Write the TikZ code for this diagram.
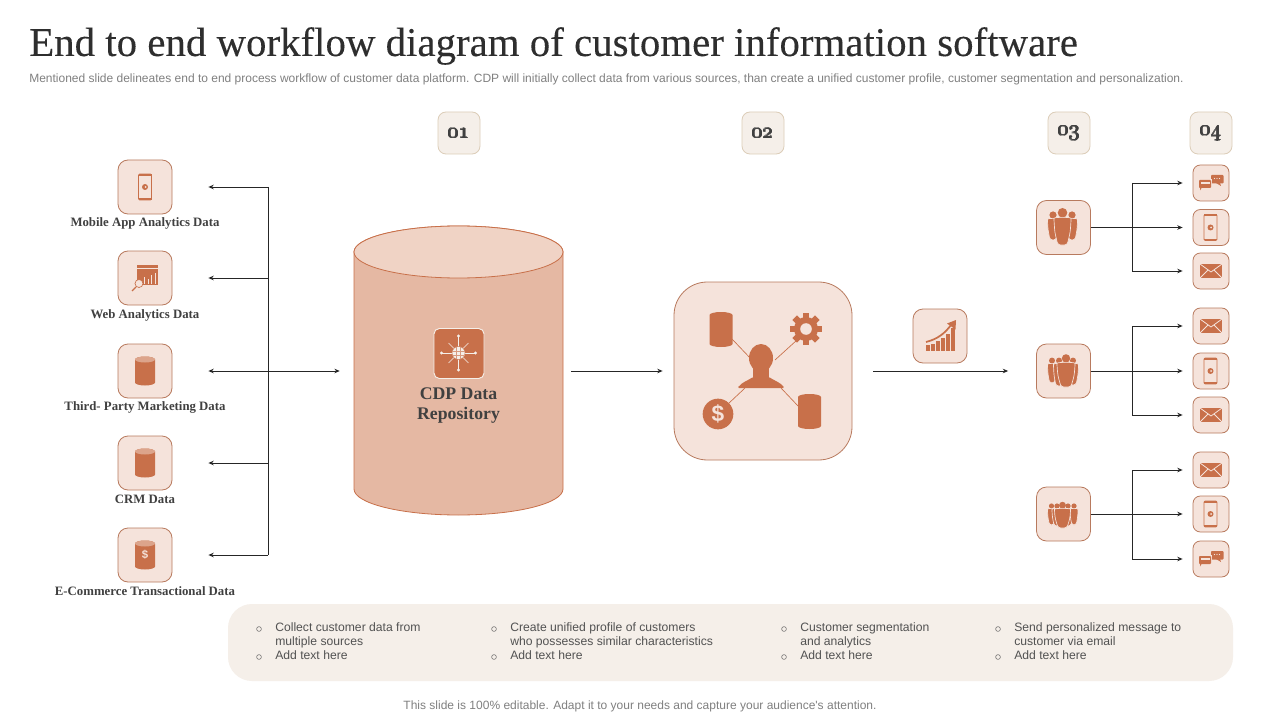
\documentclass[tikz,border=0pt]{standalone}
\usepackage{fontspec}
\setmainfont{Liberation Serif}
\newfontfamily\sansf{Liberation Sans}
\newfontfamily\titlef[FakeBold=0.12]{Liberation Serif}
\usetikzlibrary{arrows.meta}
\definecolor{ico}{HTML}{C8704A}
\definecolor{boxfill}{HTML}{F5E3DB}
\definecolor{boxline}{HTML}{B87A5E}
\definecolor{cylbody}{HTML}{E5B8A3}
\definecolor{cyltop}{HTML}{F0D3C5}
\definecolor{numfill}{HTML}{F5EFE9}
\definecolor{numline}{HTML}{DCCDB8}
\definecolor{dark}{HTML}{404040}
\newcommand\onumraw[1]{\char"30\char"3#1}
\newcommand\onum[1]{{\usefont{TS1}{lmr}{bx}{n}\fontsize{19}{20}\selectfont\rlap{\onumraw{#1}}\rlap{\raisebox{.3pt}{\kern.3pt\onumraw{#1}}}\rlap{\kern.6pt\onumraw{#1}}\rlap{\raisebox{-.2pt}{\kern.3pt\onumraw{#1}}}\kern.9pt\onumraw{#1}}}
\tikzset{
  iconbox/.style={draw=boxline,fill=boxfill,line width=.6pt,rounded corners=7.5pt,minimum size=40.5pt,inner sep=0pt},
  minibox/.style={draw=boxline,fill=boxfill,line width=.6pt,rounded corners=5.5pt,minimum size=27pt,inner sep=0pt},
  numbox/.style={draw=numline,fill=numfill,line width=.6pt,rounded corners=6pt,minimum size=31.5pt,inner sep=0pt,text=dark,font=\bfseries\fontsize{17}{18}\selectfont},
  datalabel/.style={text=dark,font=\bfseries\fontsize{9.6}{11}\selectfont,inner sep=0pt},
  conn/.style={draw=black!85,line width=.7pt},
  tip/.style={-{Stealth[length=4pt,width=3.4pt]}},
  tips/.style={{Stealth[length=4pt,width=3.4pt]}-{Stealth[length=4pt,width=3.4pt]}},
  bodytext/.style={font=\sansf\fontsize{9.12}{10.5}\selectfont,text=black!68,align=left,anchor=north west,inner sep=0pt},
  bull/.style={circle,draw=black!60,line width=.4pt,minimum size=3.6pt,inner sep=0pt},
  thin link/.style={draw=ico,line width=.5pt}
}
% icons, all in px around a centre
\newcommand\IcPhone[2]{\begin{scope}[shift={(#1,#2)}]
  \draw[ico,line width=.7pt,fill=boxfill,rounded corners=1] (-6.5,-13) rectangle (6.5,13);
  \fill[ico] (-6.5,-13) rectangle (6.5,-11.2);\fill[ico] (-6.5,11.2) rectangle (6.5,13);
  \fill[ico] (0,0) circle[radius=3];\fill[boxfill] (.5,0) circle[radius=1];
\end{scope}}
\newcommand\IcCyl[4]{\begin{scope}[shift={(#1,#2)}]
  \fill[ico] (-#3,{-#4+3}) -- (-#3,{#4-3}) arc[start angle=180,end angle=0,x radius=#3,y radius=3] -- (#3,{-#4+3}) arc[start angle=0,end angle=-180,x radius=#3,y radius=3] -- cycle;
\end{scope}}
\newcommand\IcCylTop[4]{\IcCyl{#1}{#2}{#3}{#4}\fill[ico!55!boxfill] (#1,{#2-#4+3}) ellipse[x radius=#3,y radius=3];}
\newcommand\IcMail[2]{\begin{scope}[shift={(#1,#2)}]
  \fill[ico] (-11,-7) rectangle (11,7);
  \draw[boxfill,line width=.6pt] (-11,-7) -- (0,1) -- (11,-7) (-11,7) -- (-3,-1) (11,7) -- (3,-1);
\end{scope}}
\newcommand\IcChat[2]{\begin{scope}[shift={(#1,#2)}]
  \fill[ico,rounded corners=.6] (0,-8) rectangle (12.5,.5);
  \fill[ico] (5,0) -- (9,0) -- (10,3) -- cycle;
  \foreach \d in {3.5,6,8.5}{\fill[boxfill] (\d,-4.5) circle[radius=.6];}
  \fill[boxfill] (-13,-3.6) rectangle (.6,5.6);
  \fill[ico,rounded corners=.6] (-12,-3) rectangle (0,5);
  \fill[ico] (-11,5) -- (-9.5,5) -- (-11,7.5) -- cycle;
  \fill[boxfill] (-10.5,-.8) rectangle (-1.5,1);
\end{scope}}
\newcommand\Fig[5]{% cx top halfwidth height headradius
  \fill[ico] (#1,{#2-#5+.6}) circle[radius=#5];
  \filldraw[fill=ico,draw=boxfill,line width=.5pt,rounded corners=2]
    ({#1-#3},{#2+4}) .. controls ({#1-#3},{#2}) and ({#1+#3},{#2}) .. ({#1+#3},{#2+4})
    -- ({#1+.9*#3},{#2+.55*#4}) -- ({#1+.55*#3},{#2+#4}) -- ({#1-.55*#3},{#2+#4}) -- ({#1-.9*#3},{#2+.55*#4}) -- cycle;}
\begin{document}
\begin{tikzpicture}[x=.75pt,y=-.75pt]
\path[use as bounding box,fill=white] (0,0) rectangle (1280,720);
% title
\node[anchor=west,inner sep=0pt,text=black!82,font=\titlef\fontsize{30.65}{32}\selectfont] (title) at (29,46) {End to end workflow diagram of customer information software};
\node[anchor=west,inner sep=0pt,text=black!50,font=\sansf\fontsize{9}{10}\selectfont] (sub) at (29,79) {Mentioned slide delineates end to end process workflow of customer data platform. CDP will initially collect data from various sources, than create a unified customer profile, customer segmentation and personalization.};
% number badges
\node[numbox] (n1) at (459,133) {\onum{1}};
\node[numbox] (n2) at (763,133) {\onum{2}};
\node[numbox] (n3) at (1069,133) {\onum{3}};
\node[numbox] (n4) at (1211,133) {\onum{4}};
% left sources
\node[iconbox] (s1) at (145,187) {};
\node[iconbox] (s2) at (145,278) {};
\node[iconbox] (s3) at (145,371) {};
\node[iconbox] (s4) at (145,463) {};
\node[iconbox] (s5) at (145,555) {};
\node[datalabel] (l1) at (145,223.5) {Mobile App Analytics Data};
\node[datalabel] (l2) at (145,315.5) {Web Analytics Data};
\node[datalabel] (l3) at (145,407.5) {Third- Party Marketing Data};
\node[datalabel] (l4) at (145,499.5) {CRM Data};
\node[datalabel] (l5) at (145,591.5) {E-Commerce Transactional Data};
\IcPhone{145}{187}
% web analytics icon
\fill[ico] (137,265) rectangle (158,285);
\draw[boxfill,line width=.35pt] (137,268) -- (158,268);
\foreach \a/\b in {141/281,144.5/277,148/279,151.5/275,155/273}{\draw[boxfill,line width=.4pt] (\a,284) -- (\a,\b);}
\draw[ico,line width=.9pt] (136,287) -- (132,291);
\draw[ico,line width=.5pt,fill=boxfill] (139,283.5) circle[radius=4];
\IcCylTop{145}{371}{10}{14.5}
\IcCylTop{145}{463}{10}{14.5}
\IcCylTop{145}{555}{10}{14.5}
\node[inner sep=0pt,text=boxfill,font=\sansf\bfseries\fontsize{8.5}{9}\selectfont] (dollar1) at (145,555) {\$};
% left bus
\coordinate (b1) at (268,187);
\coordinate (b2) at (268,278);
\coordinate (b5) at (268,555);
\coordinate (b4) at (268,463);
\draw[conn] (b1) -- (b5);
\draw[conn,tip,shorten >=27pt] (b1) -- (s1.east);
\draw[conn,tip,shorten >=27pt] (b2) -- (s2.east);
\draw[conn,tip,shorten >=27pt] (b4) -- (s4.east);
\draw[conn,tip,shorten >=27pt] (b5) -- (s5.east);
% repository
\node[minimum width=156.75pt,minimum height=216.75pt,inner sep=0pt] (repo) at (458.5,371) {};
\filldraw[fill=cylbody,draw=ico,line width=.6pt] (354,252) -- (354,489) arc[start angle=180,end angle=0,x radius=104.5,y radius=26] -- (563,252) arc[start angle=0,end angle=-180,x radius=104.5,y radius=26] -- cycle;
\filldraw[fill=cyltop,draw=ico,line width=.6pt] (458.5,252) ellipse[x radius=104.5,y radius=26];
\draw[conn,tips,shorten <=27pt,shorten >=10.5pt] (s3.east) -- (repo.west);
\node[draw=numfill,fill=ico,line width=.7pt,rounded corners=4pt,minimum size=37.5pt,inner sep=0pt] (net) at (459,353.5) {};
\begin{scope}[shift={(458.5,353)}]
  \foreach \an in {0,90,180,270}{\draw[numfill,line width=.5pt] (0,0) -- (\an:17);\fill[numfill] (\an:17) circle[radius=1.7];}
  \foreach \an in {45,135,225,315}{\draw[numfill,line width=.5pt] (0,0) -- (\an:14);}
  \filldraw[fill=numfill,draw=ico,line width=.3pt] (0,0) circle[radius=6.5];
  \draw[ico!70,line width=.25pt] (-6,-2) -- (6,-2) (-6,2) -- (6,2) (-2,-6) -- (-2,6) (2,-6) -- (2,6);
\end{scope}
\node[inner sep=0pt,align=center,text=dark,font=\bfseries\fontsize{13.3}{15}\selectfont] (repot) at (458.5,405.5) {CDP Data\\Repository};
% hub
\node[draw=boxline,fill=boxfill,line width=.6pt,rounded corners=25pt,minimum size=133.5pt,inner sep=0pt] (hub) at (763,371) {};
\draw[conn,tip,shorten <=6pt,shorten >=8.25pt] (repo.east) -- (hub.west);
\draw[thin link] (732,339) -- (752,360);
\draw[thin link] (775,360) -- (797,340);
\draw[thin link] (728,404) -- (745,388);
\draw[thin link] (781,388) -- (799,407);
\IcCyl{721}{329.5}{11.5}{17.5}
\IcCyl{809.5}{411.5}{11.5}{17.5}
% gear
\begin{scope}[shift={(806,329)}]
  \foreach \an in {0,45,...,315}{\fill[ico,rotate=\an] (-3.2,-16) rectangle (3.2,-9);}
  \fill[ico] (0,0) circle[radius=12];
  \fill[boxfill] (0,0) circle[radius=5.8];
\end{scope}
% person
\fill[ico] (761,358) ellipse[x radius=12,y radius=14];
\fill[ico,rounded corners=1] (737.5,388) .. controls (742,382) and (748,380.5) .. (753,377) -- (769,377) .. controls (774,380.5) and (780,382) .. (784.5,388) -- cycle;
\fill[ico] (753,366) rectangle (769,381);
% dollar coin
\node[circle,fill=ico,minimum size=23pt,inner sep=0pt,text=boxfill,font=\sansf\bfseries\fontsize{17}{18}\selectfont] (coin) at (718,414) {\$};
% chart
\node[iconbox] (chart) at (940,336) {};
\foreach \a/\b in {926/345,931/343.5,936/341,941/338,946/334,951/328}{\fill[ico] (\a,351) rectangle ({\a+3.9},\b);}
\draw[ico,line width=1.3pt] (926,342) .. controls (938,339) and (945,333) .. (951,325);
\fill[ico] (956,320) -- (955.5,329.5) -- (947,323.5) -- cycle;
% groups
\node[iconbox] (g1) at (1063.5,227.5) {};
\node[iconbox] (g2) at (1063.5,371) {};
\node[iconbox] (g3) at (1063.5,514) {};
\draw[conn,tip,shorten <=15.75pt,shorten >=21pt] (hub.east) -- (g2.west);
\Fig{1053}{218}{5.5}{22}{3.6}
\Fig{1072}{218}{5.5}{22}{3.6}
\Fig{1062.5}{217}{8.5}{28}{4.8}
\Fig{1052}{363}{4.5}{20}{3}
\Fig{1059}{363}{5.5}{23}{3}
\Fig{1073}{363}{5.5}{22}{3}
\Fig{1066}{362}{9}{25}{4.2}
\Fig{1051.5}{508}{4}{17}{2.6}
\Fig{1057}{508}{5}{18}{2.6}
\Fig{1068}{508}{5}{18}{2.6}
\Fig{1074}{508}{4}{17}{2.6}
\Fig{1062.5}{508}{8}{20}{3.4}
% right channels
\node[minibox] (r1) at (1211,183) {};
\node[minibox] (r2) at (1211,227.5) {};
\node[minibox] (r3) at (1211,271) {};
\node[minibox] (r4) at (1211,326) {};
\node[minibox] (r5) at (1211,371) {};
\node[minibox] (r6) at (1211,415) {};
\node[minibox] (r7) at (1211,470) {};
\node[minibox] (r8) at (1211,514) {};
\node[minibox] (r9) at (1211,559) {};
\IcChat{1211}{183}
\IcPhone{1210.5}{227.5}
\IcMail{1211}{271}
\IcMail{1211}{326}
\IcPhone{1210.5}{371}
\IcMail{1211}{415}
\IcMail{1211}{470}
\IcPhone{1210.5}{514}
\IcChat{1211}{559}
\coordinate (t1) at (1132,183);\coordinate (u1) at (1132,271);
\coordinate (t2) at (1132,326);\coordinate (u2) at (1132,415);
\coordinate (t3) at (1132,470);\coordinate (u3) at (1132,559);
\draw[conn] (t1) -- (u1);\draw[conn] (t2) -- (u2);\draw[conn] (t3) -- (u3);
\draw[conn,tip,shorten >=7.5pt] (t1) -- (r1.west);
\draw[conn,tip,shorten >=7.5pt] (u1) -- (r3.west);
\draw[conn,tip,shorten >=7.5pt] (g1.east) -- (r2.west);
\draw[conn,tip,shorten >=7.5pt] (t2) -- (r4.west);
\draw[conn,tip,shorten >=7.5pt] (u2) -- (r6.west);
\draw[conn,tip,shorten >=7.5pt] (g2.east) -- (r5.west);
\draw[conn,tip,shorten >=7.5pt] (t3) -- (r7.west);
\draw[conn,tip,shorten >=7.5pt] (u3) -- (r9.west);
\draw[conn,tip,shorten >=7.5pt] (g3.east) -- (r8.west);
% bottom panel
\node[fill=numfill,rounded corners=18pt,minimum width=753.75pt,minimum height=57.75pt,inner sep=0pt] (panel) at (730.5,642.5) {};
\foreach \nm/\bx in {a/259,b/494,c/784,d/998}{
  \node[bull] (bu1\nm) at (\bx,629) {};
  \node[bull] (bu2\nm) at (\bx,657) {};
}
\node[bodytext] (ta) at (275,622) {Collect customer data from\\multiple sources\\Add text here};
\node[bodytext] (tb) at (510,622) {Create unified profile of customers\\who possesses similar characteristics\\Add text here};
\node[bodytext] (tc) at (800,622) {Customer segmentation\\and analytics\\Add text here};
\node[bodytext] (td) at (1014,622) {Send personalized message to\\customer via email\\Add text here};
\node[inner sep=0pt,text=black!50,font=\sansf\fontsize{9}{10}\selectfont] (foot) at (640,706) {This slide is 100\% editable. Adapt it to your needs and capture your audience's attention.};
\end{tikzpicture}
\end{document}
